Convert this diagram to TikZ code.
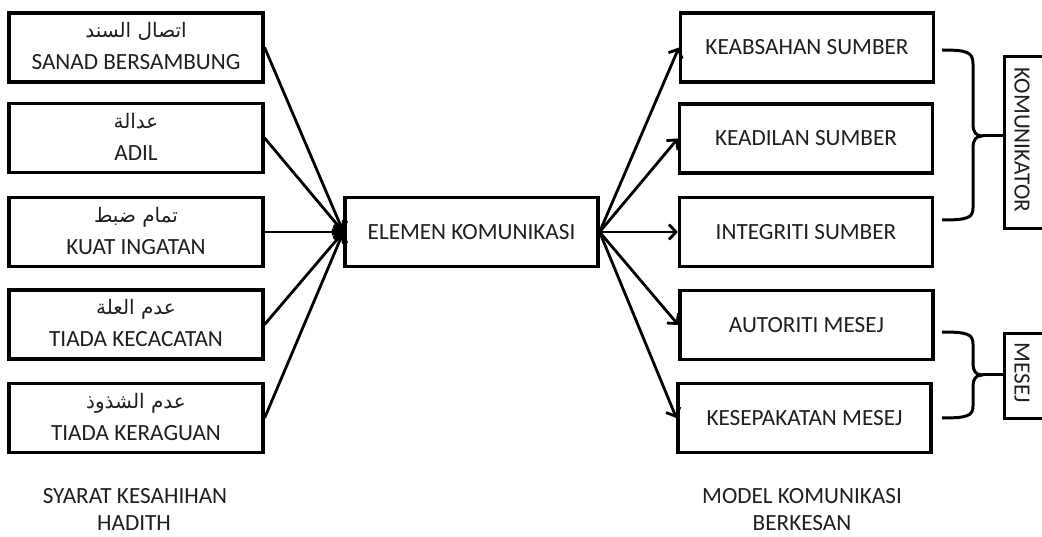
\documentclass[tikz,border=0pt]{standalone}
\usepackage{fontspec}
\setmainfont{Carlito}
\newfontfamily\arabicfont[Script=Arabic]{DejaVu Sans}
\TeXXeTstate=1
\usetikzlibrary{arrows.meta}
\begin{document}
\begin{tikzpicture}[x=1pt,y=-1pt,
  box/.style={draw, line width=3.2pt, fill=white, minimum width=253pt, minimum height=69pt, inner sep=0pt,
    font=\fontsize{23.2}{28}\selectfont, text=black!88},
  lbl/.style={font=\fontsize{23.2}{28}\selectfont, inner sep=0pt, anchor=base, text=black!88},
  arab/.style={font=\arabicfont\fontsize{20}{24}\selectfont, inner sep=0pt, anchor=base, text=black!88},
  conn/.style={line width=2.8pt, -{Straight Barb[length=7pt,width=15pt,line width=2.8pt]}},
  brc/.style={line width=3pt},
  sidebox/.style={draw, line width=3.2pt, fill=white, inner sep=0pt, anchor=north west}]
\useasboundingbox (0,0) rectangle (1042,537);
\clip (0,0) rectangle (1042,537);
\fill[white] (0,0) rectangle (1042,537);

% left boxes
\node[box, minimum width=254pt] (l1) at (136,47.5) {};
\node[box, minimum width=254pt] (l2) at (136,138) {};
\node[box, minimum width=254pt] (l3) at (136,232) {};
\node[box, minimum width=254pt] (l4) at (136,324.5) {};
\node[box, minimum width=254pt] (l5) at (136,418) {};

\node[arab] (a1) at ([yshift=9.5pt]l1.center) {\beginR اتصال السند\endR};
\node[lbl]  (t1) at ([yshift=-22.5pt]l1.center) {SANAD BERSAMBUNG};
\node[arab] (a2) at ([yshift=9.5pt]l2.center) {\beginR عدالة\endR};
\node[lbl]  (t2) at ([yshift=-22.5pt]l2.center) {ADIL};
\node[arab] (a3) at ([yshift=9.5pt]l3.center) {\beginR تمام ضبط\endR};
\node[lbl]  (t3) at ([yshift=-22.5pt]l3.center) {KUAT INGATAN};
\node[arab] (a4) at ([yshift=9.5pt]l4.center) {\beginR عدم العلة\endR};
\node[lbl]  (t4) at ([yshift=-22.5pt]l4.center) {TIADA KECACATAN};
\node[arab] (a5) at ([yshift=9.5pt]l5.center) {\beginR عدم الشذوذ\endR};
\node[lbl]  (t5) at ([yshift=-22.5pt]l5.center) {TIADA KERAGUAN};

% centre box
\node[box] (c) at (471.5,232) {ELEMEN KOMUNIKASI};

% right boxes
\node[box] (r1) at (807,47.5) {KEABSAHAN SUMBER};
\node[box] (r2) at (806,138.5) {KEADILAN SUMBER};
\node[box] (r3) at (806,232) {INTEGRITI SUMBER};
\node[box] (r4) at (806.5,325) {AUTORITI MESEJ};
\node[box] (r5) at (804.5,418) {KESEPAKATAN MESEJ};

% connectors
\foreach \n in {l1,l2,l3,l4,l5} \draw[conn] (\n.east) -- (c.west);
\foreach \n in {r1,r2,r3,r4,r5} \draw[conn] (c.east) -- (\n.west);

% side boxes
\node[sidebox, minimum width=50pt, minimum height=172pt] (kom) at (1003,55) {};
\node[lbl, anchor=center, rotate=-90] (komt) at (1022,140) {KOMUNIKATOR};
\node[sidebox, minimum width=50pt, minimum height=85pt] (mes) at (1003,332) {};
\node[lbl, anchor=center, rotate=-90] (mest) at (1022,373) {MESEJ};

% braces
\coordinate (b1) at (982,136);
\draw[brc] (942,50) .. controls (967,50) and (973,52) .. (973,64) -- (973,124)
  .. controls (973,132) and (976,136) .. (b1)
  .. controls (976,136) and (973,140) .. (973,148) -- (973,208)
  .. controls (973,218) and (967,220) .. (942,220);
\draw[brc] (b1) -- (b1 -| kom.west);
\coordinate (b2) at (982,375);
\draw[brc] (942,332) .. controls (967,332) and (973,334) .. (973,344) -- (973,364)
  .. controls (973,371) and (976,375) .. (b2)
  .. controls (976,375) and (973,379) .. (973,386) -- (973,406)
  .. controls (973,416) and (967,418) .. (942,418);
\draw[brc] (b2) -- (b2 -| mes.west);

% bottom captions
\node[lbl, anchor=base] (s1) at (135,503.5) {SYARAT KESAHIHAN};
\node[lbl, anchor=base] (s2) at (134,530) {HADITH};
\node[lbl, anchor=base] (m1) at (802,503.5) {MODEL KOMUNIKASI};
\node[lbl, anchor=base] (m2) at (802,530) {BERKESAN};
\end{tikzpicture}
\end{document}
